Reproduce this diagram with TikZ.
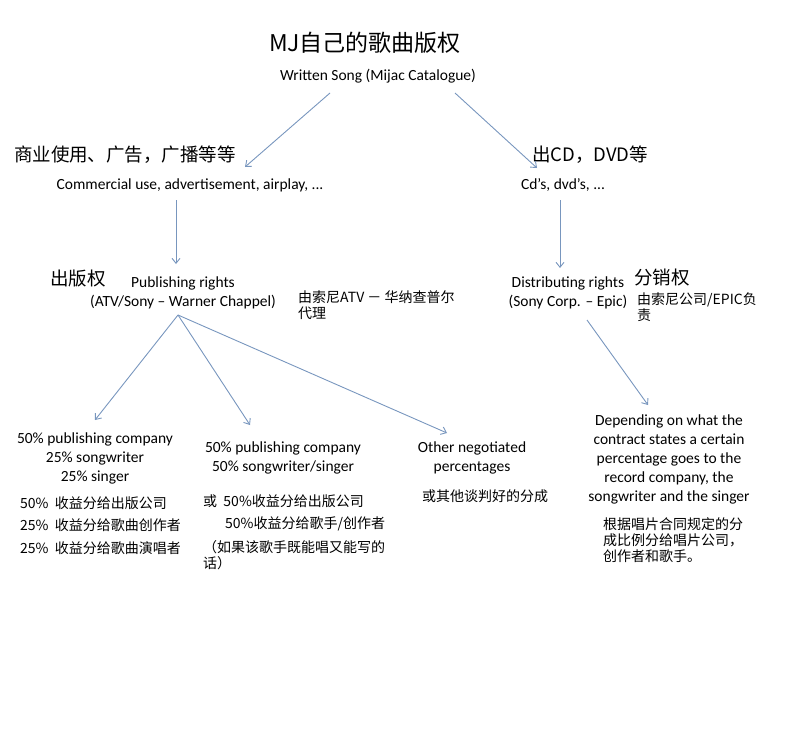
\documentclass[tikz,border=0pt]{standalone}
\usepackage{fontspec}
\setmainfont{Carlito}
\newfontfamily\cjk{Noto Sans CJK SC}
\usetikzlibrary{arrows.meta}

\begin{document}
\begin{tikzpicture}[x=1pt, y=-1pt, inner sep=0pt,
	en/.style={font=\fontsize{15.5}{19}\selectfont, align=center},
	zh/.style={font=\cjk\fontsize{14}{16}\selectfont, align=left},
	zhbig/.style={font=\cjk\fontsize{18.5}{20}\selectfont},
	pfeil/.style={-{Straight Barb[length=5pt,width=8pt]}, draw={rgb,255:red,120;green,150;blue,190}, line width=0.9pt}]

	\useasboundingbox (0,0) rectangle (796,744);

	% Kopf
	\node[font=\cjk\fontsize{23}{26}\selectfont](titel) at (365,43) {MJ自己的歌曲版权};
	\node[en](song) at (378,76) {Written Song (Mijac Catalogue)};

	% zweite Ebene
	\node[zhbig](kommzh) at (125,155) {商业使用、广告，广播等等};
	\node[en](komm) at (190,185) {Commercial use, advertisement, airplay, ...};
	\node[zhbig](cdzh) at (590,155) {出CD，DVD等};
	\node[en](cd) at (563,185) {Cd’s, dvd’s, ...};

	% dritte Ebene
	\node[zhbig](pubzh) at (78,278) {出版权};
	\node[en](pub) at (183,293) {Publishing rights\\(ATV/Sony -- Warner Chappel)};
	\node[zh, anchor=west](pubnote) at (298,305) {由索尼ATV － 华纳查普尔\\代理};
	\node[zhbig](diszh) at (662,278) {分销权};
	\node[en](dis) at (568,293) {Distributing rights\\(Sony Corp. -- Epic)};
	\node[zh, anchor=west](disnote) at (637,307) {由索尼公司/EPIC负\\责};

	% untere Ebene
	\node[en](anteil_a) at (95,458) {50\% publishing company\\25\% songwriter\\25\% singer};
	\node[zh, anchor=west](anteil_a1) at (20,503) {50\%\ \ 收益分给出版公司};
	\node[zh, anchor=west](anteil_a2) at (20,525) {25\%\ \ 收益分给歌曲创作者};
	\node[zh, anchor=west](anteil_a3) at (20,548) {25\%\ \ 收益分给歌曲演唱者};

	\node[en](anteil_b) at (283,458) {50\% publishing company\\50\% songwriter/singer};
	\node[zh, anchor=west](anteil_b1) at (203,501) {或\ \ 50\%收益分给出版公司};
	\node[zh, anchor=west](anteil_b2) at (225,524) {50\%收益分给歌手/创作者};
	\node[zh, anchor=west](anteil_b3) at (203,555) {（如果该歌手既能唱又能写的\\话）};

	\node[en](anteil_c) at (472,458) {Other negotiated\\percentages};
	\node[zh](anteil_c1) at (485,496) {或其他谈判好的分成};

	\node[en](vertrag) at (669,459) {Depending on what the\\contract states a certain\\percentage goes to the\\record company, the\\songwriter and the singer};
	\node[zh, anchor=west](vertragzh) at (603,540) {根据唱片合同规定的分\\成比例分给唱片公司，\\创作者和歌手。};

	% Pfeilenden
	\coordinate (song_l) at (330,93);
	\coordinate (song_r) at (455,93);
	\coordinate (komm_e) at (245,167);
	\coordinate (cd_e) at (537,168);
	\coordinate (komm_u) at (176,200);
	\coordinate (pub_o) at (176,264);
	\coordinate (cd_u) at (560,200);
	\coordinate (dis_o) at (560,268);
	\coordinate (pub_u) at (178,315);
	\coordinate (a_o) at (95,420);
	\coordinate (b_o) at (250,425);
	\coordinate (c_o) at (447,433);
	\coordinate (dis_u) at (587,320);
	\coordinate (v_o) at (648,405);

	\draw[pfeil] (song_l) -- (komm_e);
	\draw[pfeil] (song_r) -- (cd_e);
	\draw[pfeil] (komm_u) -- (pub_o);
	\draw[pfeil] (cd_u) -- (dis_o);
	\draw[pfeil] (pub_u) -- (a_o);
	\draw[pfeil] (pub_u) -- (b_o);
	\draw[pfeil] (pub_u) -- (c_o);
	\draw[pfeil] (dis_u) -- (v_o);
\end{tikzpicture}
\end{document}
